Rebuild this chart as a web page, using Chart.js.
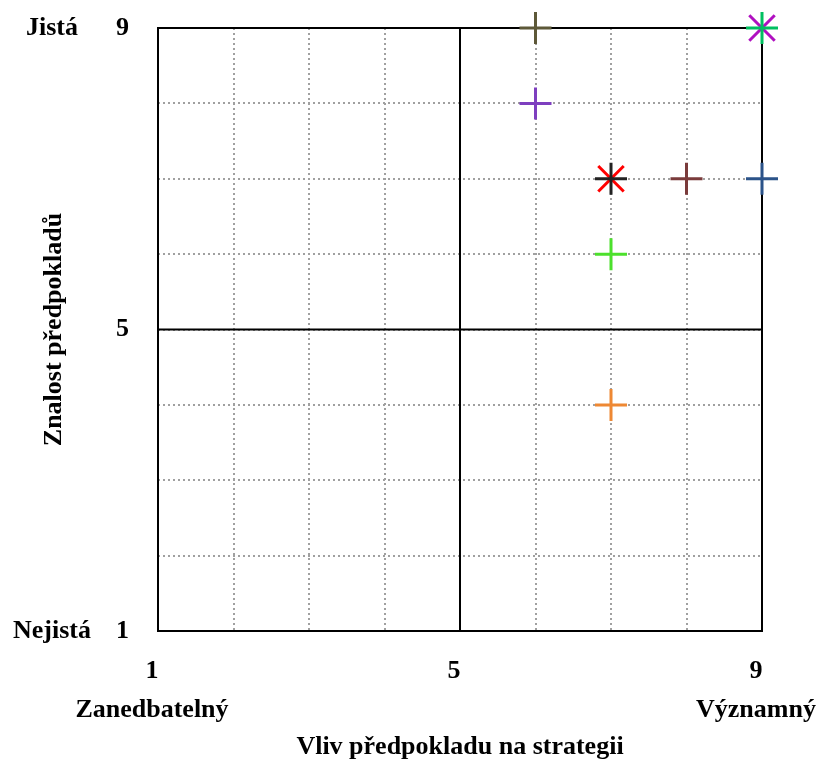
<!DOCTYPE html>
<html>
<head>
<meta charset="utf-8">
<script src="https://cdn.jsdelivr.net/npm/chart.js@4/dist/chart.umd.min.js"></script>
<style>
  html, body { margin: 0; padding: 0; background: #fff; }
  #wrap { width: 821px; height: 765px; }
</style>
</head>
<body>
<div id="wrap"><canvas id="matrix"></canvas></div>
<script>
/* ====== DATA ====== */
// assumptions drawn as "+" markers
const impactValues    = [6, 6, 7, 8, 9, 9, 7, 7];
const knowledgeValues = [9, 8, 7, 7, 7, 9, 6, 4];
// assumptions drawn as "x" markers (on top of the crosses)
const starImpact    = [7, 9];
const starKnowledge = [7, 9];

const xTickLabels = { 1: ["1", "Zanedbatelný"], 5: "5", 9: ["9", "Významný"] };
const yTickLabels = { 1: "1", 5: "5", 9: "9" };
const ySideLabels = { 9: "Jistá", 1: "Nejistá" };

const xTitle = "Vliv předpokladu na strategii";
const yTitle = "Znalost předpokladů";

/* ====== STYLE ====== */
const plusColors = ["#5d5838", "#7e3fbf", "#222222", "#7a3b3b", "#2b5389", "#00c060", "#4ce02c", "#ee8833"];
const starColors = ["#ff0000", "#b010c0"];
const FONT = { family: "'Liberation Serif', 'Times New Roman', serif", size: 26, weight: "bold" };

/* ====== DATASETS ====== */
const datasets = [];
impactValues.forEach((x, i) => {
  datasets.push({
    data: [{ x: x, y: knowledgeValues[i] }],
    pointStyle: "cross",
    pointRadius: 16,
    borderColor: plusColors[i],
    backgroundColor: plusColors[i],
    pointBorderWidth: 3,
    clip: false
  });
});
starImpact.forEach((x, i) => {
  datasets.push({
    data: [{ x: x, y: starKnowledge[i] }],
    pointStyle: "crossRot",
    pointRadius: 18,
    borderColor: starColors[i],
    backgroundColor: starColors[i],
    pointBorderWidth: 3,
    clip: false
  });
});

/* ====== FRAME + SIDE LABELS ====== */
const framePlugin = {
  id: "frame",
  beforeDatasetsDraw(chart) {
    const { ctx, chartArea: a, scales } = chart;
    const x5 = scales.x.getPixelForValue(5);
    const y5 = scales.y.getPixelForValue(5);
    ctx.save();
    ctx.strokeStyle = "#000";
    ctx.lineWidth = 2;
    ctx.strokeRect(a.left, a.top, a.right - a.left, a.bottom - a.top);
    ctx.beginPath();
    ctx.moveTo(x5, a.top);
    ctx.lineTo(x5, a.bottom);
    ctx.moveTo(a.left, y5);
    ctx.lineTo(a.right, y5);
    ctx.stroke();
    ctx.restore();
  },
  afterDraw(chart) {
    const { ctx, scales } = chart;
    ctx.save();
    ctx.fillStyle = "#000";
    ctx.font = "bold 26px 'Liberation Serif', serif";
    ctx.textAlign = "center";
    ctx.textBaseline = "middle";
    Object.keys(ySideLabels).forEach(v => {
      ctx.fillText(ySideLabels[v], 52, scales.y.getPixelForValue(Number(v)));
    });
    ctx.restore();
  }
};

/* ====== CHART ====== */
const ctx = document.getElementById("matrix").getContext("2d");
new Chart(ctx, {
  type: "scatter",
  data: { datasets },
  options: {
    responsive: true,
    maintainAspectRatio: false,
    animation: false,
    layout: { padding: { top: 28, right: 59, left: 0, bottom: 0 } },
    plugins: {
      legend: { display: false },
      tooltip: { enabled: false }
    },
    scales: {
      x: {
        type: "linear",
        min: 1,
        max: 9,
        afterFit(scale) {
          scale.height = 134;
          scale.paddingLeft = 0;
          scale.paddingRight = 0;
        },
        grid: { color: "#a0a0a0", lineWidth: 2, drawTicks: false },
        border: { display: false, dash: [2, 3] },
        ticks: {
          stepSize: 1,
          autoSkip: false,
          maxRotation: 0,
          padding: 21,
          labelOffset: -6,
          color: "#000",
          font: Object.assign({}, FONT, { lineHeight: 1.5 }),
          callback: v => xTickLabels[v] || ""
        },
        title: {
          display: true,
          text: xTitle,
          color: "#000",
          font: FONT,
          padding: { top: 0, bottom: 2 }
        }
      },
      y: {
        type: "linear",
        min: 1,
        max: 9,
        afterFit(scale) {
          scale.width = 158;
          scale.paddingTop = 0;
          scale.paddingBottom = 0;
        },
        grid: { color: "#a0a0a0", lineWidth: 2, drawTicks: false },
        border: { display: false, dash: [2, 3] },
        ticks: {
          stepSize: 1,
          autoSkip: false,
          padding: 29,
          color: "#000",
          font: FONT,
          callback: v => yTickLabels[v] || ""
        },
        title: {
          display: true,
          text: yTitle,
          color: "#000",
          font: FONT,
          padding: { top: 39, bottom: 0 }
        }
      }
    }
  },
  plugins: [framePlugin]
});
</script>
</body>
</html>
